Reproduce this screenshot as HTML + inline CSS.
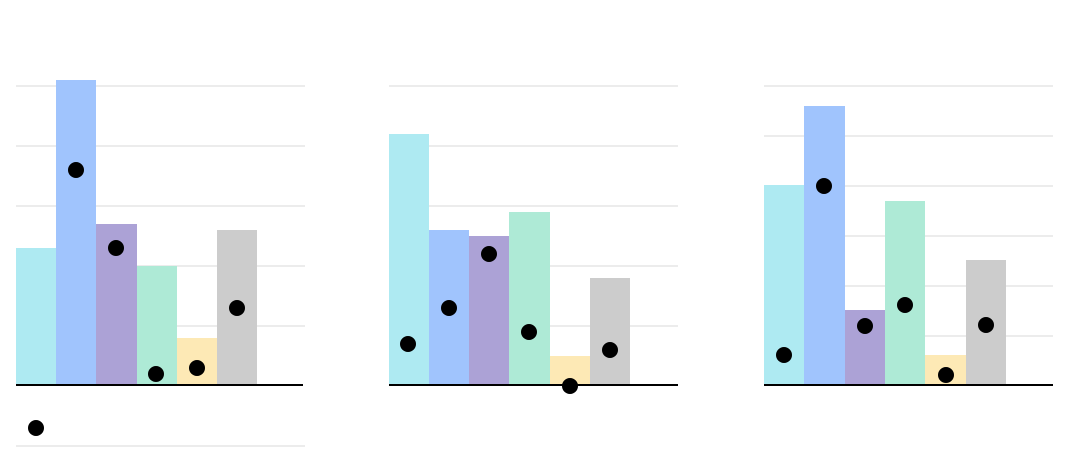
<!DOCTYPE html>
<html><head><meta charset="utf-8"><style>html,body{margin:0;padding:0;background:#fff}</style></head>
<body>
<svg width="1080" height="450" viewBox="0 0 1080 450" xmlns="http://www.w3.org/2000/svg">
<g stroke="#ececec" stroke-width="2">
<line x1="16" x2="305" y1="86" y2="86"/><line x1="16" x2="305" y1="146" y2="146"/><line x1="16" x2="305" y1="206" y2="206"/><line x1="16" x2="305" y1="266" y2="266"/><line x1="16" x2="305" y1="326" y2="326"/><line x1="16" x2="305" y1="446" y2="446"/>
<line x1="389" x2="678" y1="86" y2="86"/><line x1="389" x2="678" y1="146" y2="146"/><line x1="389" x2="678" y1="206" y2="206"/><line x1="389" x2="678" y1="266" y2="266"/><line x1="389" x2="678" y1="326" y2="326"/>
<line x1="764" x2="1053" y1="86" y2="86"/><line x1="764" x2="1053" y1="136" y2="136"/><line x1="764" x2="1053" y1="186" y2="186"/><line x1="764" x2="1053" y1="236" y2="236"/><line x1="764" x2="1053" y1="286" y2="286"/><line x1="764" x2="1053" y1="336" y2="336"/>
</g>
<g>
<rect x="16" y="248" width="40" height="137" fill="#aeeaf2"/>
<rect x="56" y="80" width="40" height="305" fill="#a0c4fd"/>
<rect x="96" y="224" width="41" height="161" fill="#aca2d6"/>
<rect x="137" y="266" width="40" height="119" fill="#aeead6"/>
<rect x="177" y="338" width="40" height="47" fill="#fde9b5"/>
<rect x="217" y="230" width="40" height="155" fill="#cccccc"/>

<rect x="389" y="134" width="40" height="251" fill="#aeeaf2"/>
<rect x="429" y="230" width="40" height="155" fill="#a0c4fd"/>
<rect x="469" y="236" width="40" height="149" fill="#aca2d6"/>
<rect x="509" y="212" width="41" height="173" fill="#aeead6"/>
<rect x="550" y="356" width="40" height="29" fill="#fde9b5"/>
<rect x="590" y="278" width="40" height="107" fill="#cccccc"/>

<rect x="764" y="185" width="40" height="200" fill="#aeeaf2"/>
<rect x="804" y="106" width="41" height="279" fill="#a0c4fd"/>
<rect x="845" y="310" width="40" height="75" fill="#aca2d6"/>
<rect x="885" y="201" width="40" height="184" fill="#aeead6"/>
<rect x="925" y="355" width="41" height="30" fill="#fde9b5"/>
<rect x="966" y="260" width="40" height="125" fill="#cccccc"/>
</g>
<g stroke="#000" stroke-width="2">
<line x1="16" x2="303" y1="385" y2="385"/>
<line x1="389" x2="678" y1="385" y2="385"/>
<line x1="764" x2="1053" y1="385" y2="385"/>
</g>
<g fill="#000">
<circle cx="36" cy="428" r="8"/><circle cx="76" cy="170" r="8"/><circle cx="116" cy="248" r="8"/><circle cx="156" cy="374" r="8"/><circle cx="197" cy="368" r="8"/><circle cx="237" cy="308" r="8"/>
<circle cx="408" cy="344" r="8"/><circle cx="449" cy="308" r="8"/><circle cx="489" cy="254" r="8"/><circle cx="529" cy="332" r="8"/><circle cx="570" cy="386" r="8"/><circle cx="610" cy="350" r="8"/>
<circle cx="784" cy="355" r="8"/><circle cx="824" cy="186" r="8"/><circle cx="865" cy="326" r="8"/><circle cx="905" cy="305" r="8"/><circle cx="946" cy="375" r="8"/><circle cx="986" cy="325" r="8"/>
</g>
</svg>
</body></html>
